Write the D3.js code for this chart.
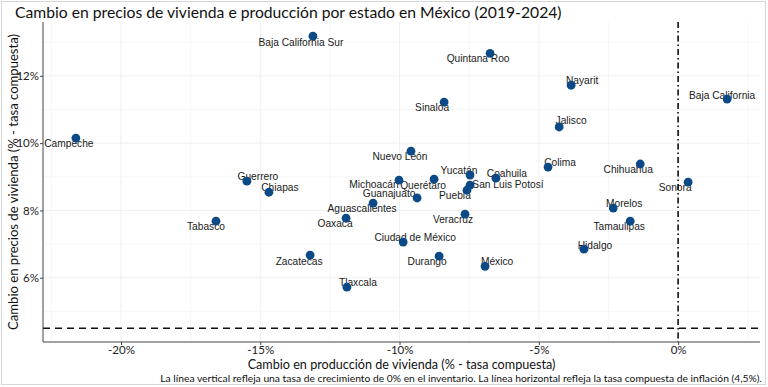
<!DOCTYPE html>
<html>
<head>
<meta charset="utf-8">
<script src="https://cdn.jsdelivr.net/npm/d3@7"></script>
<style>
  body { margin: 0; background: #fff; }
  svg { display: block; }
</style>
</head>
<body>
<svg id="chart" width="768" height="387"></svg>
<script>
// datos: cambio en produccion (x) y en precios (y), % tasa compuesta
const states = ["Baja California Sur", "Quintana Roo", "Nayarit", "Baja California", "Sinaloa",
  "Jalisco", "Campeche", "Nuevo León", "Colima", "Chihuahua", "Yucatán", "Coahuila", "Sonora",
  "Guerrero", "Michoacán", "Querétaro", "San Luis Potosí", "Puebla", "Chiapas", "Guanajuato",
  "Aguascalientes", "Morelos", "Oaxaca", "Veracruz", "Tabasco", "Tamaulipas", "Ciudad de México",
  "Hidalgo", "Zacatecas", "Durango", "México", "Tlaxcala"];
const prodChange = [-13.11, -6.75, -3.84, 1.76, -8.40,
  -4.27, -21.62, -9.59, -4.67, -1.36, -7.47, -6.54, 0.36,
  -15.48, -10.02, -8.76, -7.47, -7.58, -14.69, -9.37,
  -10.95, -2.33, -11.92, -7.65, -16.59, -1.72, -9.87,
  -3.38, -13.21, -8.58, -6.93, -11.89];
const priceChange = [13.18, 12.67, 11.72, 11.31, 11.22,
  10.48, 10.15, 9.76, 9.29, 9.38, 9.05, 8.96, 8.84,
  8.87, 8.90, 8.93, 8.75, 8.60, 8.54, 8.37,
  8.22, 8.07, 7.77, 7.89, 7.68, 7.68, 7.06,
  6.85, 6.67, 6.64, 6.34, 5.72];
const xTicks = [-20, -15, -10, -5, 0];
const yTicks = [6, 8, 10, 12];
const inflation = 4.5;
const zeroGrowth = 0;

const title = "Cambio en precios de vivienda e producción por estado en México (2019-2024)";
const xTitle = "Cambio en producción de vivienda (% - tasa compuesta)";
const yTitle = "Cambio en precios de vivienda (% - tasa compuesta)";
const caption = "La línea vertical refleja una tasa de crecimiento de 0% en el inventario. La línea horizontal refleja la tasa compuesta de inflación (4,5%).";

// desplazamiento de etiquetas (px, centro del texto respecto al punto)
const labelNudge = {
  "Baja California Sur": [-12, 6], "Quintana Roo": [-12, 5], "Nayarit": [11, -5],
  "Baja California": [-5, -4], "Sinaloa": [-12, 5], "Jalisco": [12, -6], "Campeche": [-7, 5],
  "Nuevo León": [-11, 5], "Colima": [12, -5], "Chihuahua": [-12, 6], "Yucatán": [-11, -5],
  "Coahuila": [11, -5], "Sonora": [-13, 5], "Guerrero": [11, -5], "Michoacán": [-25, 4],
  "Querétaro": [-11, 6], "San Luis Potosí": [38, -1], "Puebla": [-12, 5], "Chiapas": [11, -5],
  "Guanajuato": [-28, -4], "Aguascalientes": [-11, 5], "Morelos": [11, -5], "Oaxaca": [-11, 5],
  "Veracruz": [-12, 5], "Tabasco": [-10, 5], "Tamaulipas": [-11, 5], "Ciudad de México": [12, -5],
  "Hidalgo": [11, -4], "Zacatecas": [-11, 6], "Durango": [-12, 5], "México": [12, -5],
  "Tlaxcala": [11, -5]
};

const svg = d3.select("#chart");
const W = 768, H = 387;
const m = { left: 43, right: 8, top: 22, bottom: 45 };
const x = d3.scaleLinear().domain([-22.8, 2.94]).range([m.left, W - m.right]);
const y = d3.scaleLinear().domain([4.09, 13.6]).range([H - m.bottom, m.top]);
const sansUI = "'Lato', 'Noto Sans', sans-serif";

// marco exterior
svg.append("rect").attr("x", 1.5).attr("y", 1.5).attr("width", W - 4).attr("height", H - 4)
  .attr("fill", "#fff").attr("stroke", "#d6d6d6");

// rejilla
const g = svg.append("g");
const minorX = d3.range(-22.5, 3, 2.5).filter(v => !xTicks.includes(v));
const minorY = d3.range(5, 14, 1).filter(v => !yTicks.includes(v));
g.selectAll(".gx").data(xTicks.concat(minorX)).enter().append("line")
  .attr("x1", d => x(d)).attr("x2", d => x(d)).attr("y1", m.top).attr("y2", H - m.bottom)
  .attr("stroke", d => xTicks.includes(d) ? "#f0f0f0" : "#f7f7f7");
g.selectAll(".gy").data(yTicks.concat(minorY)).enter().append("line")
  .attr("y1", d => y(d)).attr("y2", d => y(d)).attr("x1", m.left).attr("x2", W - m.right)
  .attr("stroke", d => yTicks.includes(d) ? "#f0f0f0" : "#f7f7f7");

// lineas de referencia
svg.append("line").attr("x1", m.left).attr("x2", W - m.right)
  .attr("y1", y(inflation)).attr("y2", y(inflation))
  .attr("stroke", "#111").attr("stroke-width", 1.6).attr("stroke-dasharray", "7,5");
svg.append("line").attr("x1", x(zeroGrowth)).attr("x2", x(zeroGrowth))
  .attr("y1", m.top).attr("y2", H - m.bottom)
  .attr("stroke", "#111").attr("stroke-width", 1.6).attr("stroke-dasharray", "6,3,1.5,3");

// ejes
const fmt = d => d + "%";
const xAxis = svg.append("g").attr("transform", `translate(0,${H - m.bottom})`)
  .call(d3.axisBottom(x).tickValues(xTicks).tickFormat(fmt).tickSize(3).tickPadding(1));
const yAxis = svg.append("g").attr("transform", `translate(${m.left},0)`)
  .call(d3.axisLeft(y).tickValues(yTicks).tickFormat(fmt).tickSize(3).tickPadding(1));
[xAxis, yAxis].forEach(a => {
  a.select(".domain").attr("stroke", "#444").attr("stroke-width", 1);
  a.selectAll(".tick line").attr("stroke", "#444");
  a.selectAll(".tick text").attr("fill", "#222").attr("font-family", sansUI).attr("font-size", 11.5);
});
xAxis.select(".domain").attr("d", `M${m.left},0H${W - m.right}`);
yAxis.select(".domain").attr("d", `M0,${m.top}V${H - m.bottom}`);

// etiquetas y puntos
const data = states.map((s, i) => ({ name: s, px: prodChange[i], pr: priceChange[i] }));
svg.append("g").selectAll("text").data(data).enter().append("text")
  .attr("x", d => x(d.px) + labelNudge[d.name][0])
  .attr("y", d => y(d.pr) + labelNudge[d.name][1])
  .attr("text-anchor", "middle").attr("dominant-baseline", "central")
  .attr("font-family", "'Liberation Sans', Arial, sans-serif").attr("font-size", 10.2)
  .attr("fill", "#1a1a1a").text(d => d.name);
svg.append("g").selectAll("circle").data(data).enter().append("circle")
  .attr("cx", d => x(d.px)).attr("cy", d => y(d.pr)).attr("r", 4.4)
  .attr("fill", "#0b4a86");

// textos con ancho ajustado
function fitText(sel, target) {
  const w = sel.node().getComputedTextLength();
  const fs = parseFloat(sel.attr("font-size"));
  sel.attr("font-size", fs * target / w);
}
const t = svg.append("text").attr("x", 15).attr("y", 18).attr("font-family", sansUI)
  .attr("font-size", 17).attr("fill", "#111").text(title);
fitText(t, 547);
const xt = svg.append("text").attr("x", (m.left + W - m.right) / 2).attr("y", 369)
  .attr("text-anchor", "middle").attr("font-family", sansUI).attr("font-size", 14)
  .attr("fill", "#111").text(xTitle);
fitText(xt, 308);
const yt = svg.append("text").attr("transform", `translate(18,${(m.top + H - m.bottom) / 2}) rotate(-90)`)
  .attr("text-anchor", "middle").attr("font-family", sansUI).attr("font-size", 14)
  .attr("fill", "#111").text(yTitle);
fitText(yt, 296);
const ct = svg.append("text").attr("x", 762).attr("y", 382).attr("text-anchor", "end")
  .attr("font-family", sansUI).attr("font-size", 11).attr("fill", "#111").text(caption);
fitText(ct, 602);
</script>
</body>
</html>
